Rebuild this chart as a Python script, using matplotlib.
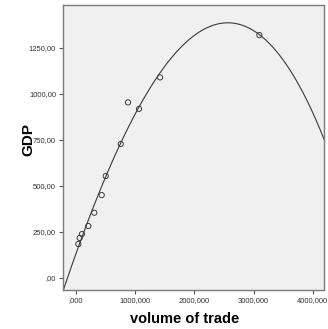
import numpy as np
import matplotlib
matplotlib.use('Agg')
import matplotlib.pyplot as plt
from matplotlib.ticker import FuncFormatter

# volume of trade (thousands) and GDP
trade = [39, 62, 100, 208, 309, 434, 502, 755, 878, 1064, 1419, 3096]
gdp = [183, 216, 237, 281, 353, 449, 553, 727, 953, 918, 1089, 1319]

# cubic fit line: b0 + b1*x + b2*x^2 + b3*x^3
fit_coef = [131.2, 0.90175, -1.308e-4, -1.172e-8]

x_ticks = [0, 1000, 2000, 3000, 4000]
y_ticks = [0, 250, 500, 750, 1000, 1250]


def spss_fmt(decimals):
    def f(v, pos):
        s = '{:.{}f}'.format(v, decimals).replace('.', ',')
        if s.startswith('0,'):
            s = s[1:]
        return s
    return FuncFormatter(f)


plt.rcParams['font.family'] = ['Liberation Sans', 'DejaVu Sans']

fig = plt.figure(figsize=(3.28, 3.29), dpi=100)
ax = fig.add_axes([0.192, 0.1185, 0.797, 0.866])
ax.set_facecolor('#f0f0f0')

xs = np.linspace(-300, 4500, 400)
ys = np.polyval(fit_coef[::-1], xs)
ax.plot(xs, ys, color='#3a3a3a', linewidth=0.8)
ax.scatter(trade, gdp, s=14, facecolors='none', edgecolors='#3a3a3a', linewidths=0.7, zorder=3)

ax.set_xlim(-220, 4194)
ax.set_ylim(-67, 1482)
ax.set_xticks(x_ticks)
ax.set_yticks(y_ticks)
ax.xaxis.set_major_formatter(spss_fmt(3))
ax.yaxis.set_major_formatter(spss_fmt(2))
ax.tick_params(labelsize=5.5, length=3, width=0.8, color='#555555', labelcolor='#333333', pad=2)

for sp in ax.spines.values():
    sp.set_color('#7a7a7a')
    sp.set_linewidth(1.0)

fig.text(185 / 328, 1 - 319 / 329, 'volume of trade', ha='center', va='center',
         fontsize=10.5, fontweight='heavy')
fig.text(28 / 328, 1 - 140 / 329, 'GDP', ha='center', va='center', rotation=90,
         fontsize=11, fontweight='heavy')

fig.savefig('out.png', dpi=100)
